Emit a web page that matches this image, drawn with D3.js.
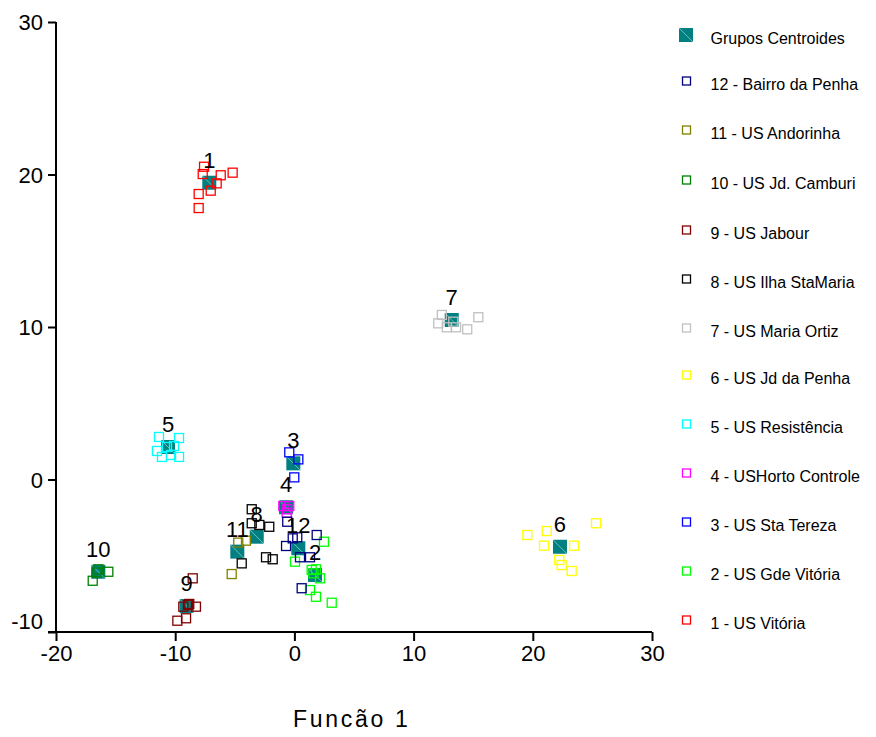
<!DOCTYPE html>
<html>
<head>
<meta charset="utf-8">
<script src="https://cdn.jsdelivr.net/npm/d3@7"></script>
<style>
  html, body { margin: 0; padding: 0; background: #fff; }
  svg { display: block; font-family: Arial, "Liberation Sans", sans-serif; }
</style>
</head>
<body>
<svg id="chart" width="876" height="737"></svg>
<script>
// ---------- data ----------
const groupNames = ["1 - US Vitória", "2 - US Gde Vitória", "3 - US Sta Tereza", "4 - USHorto Controle",
  "5 - US Resistência", "6 - US Jd da Penha", "7 - US Maria Ortiz", "8 - US Ilha StaMaria",
  "9 - US Jabour", "10 - US Jd. Camburi", "11 - US Andorinha", "12 - Bairro da Penha"];
const groupLabels = ["1","2","3","4","5","6","7","8","9","10","11","12"];
const groupColors = ["#ff0000","#00ff00","#0000ff","#ff00ff","#00ffff","#ffff00","#c0c0c0","#000000",
  "#800000","#008000","#808000","#000080"];

const centroidsX = [-7.14, 1.73, -0.09, -0.70, -10.60, 22.28, 13.20, -3.16, -9.04, -16.45, -4.79, 0.33];
const centroidsY = [19.46, -6.26, 1.06, -1.82, 2.13, -4.41, 10.46, -3.75, -8.30, -6.05, -4.73, -4.51];

const pts1 = [[-7.58,20.51],[-7.69,20.03],[-6.18,19.95],[-5.18,20.12],[-6.52,19.42],[-7.02,18.94],[-8.03,18.72],[-8.03,17.80]];
const pts2 = [[2.48,-4.08],[0.05,-5.39],[1.45,-5.93],[1.81,-5.89],[2.15,-6.48],[1.31,-7.25],[1.81,-7.69],[3.13,-8.08],[1.6,-6.15]];
const pts3 = [[-0.43,1.78],[0.33,1.32],[-0.01,0.14]];
const pts4 = [[-0.93,-1.74],[-0.60,-1.95],[-0.43,-1.74],[-0.65,-2.18]];
const pts5 = [[-11.36,2.79],[-9.68,2.72],[-11.53,1.87],[-11.11,1.48],[-10.35,1.61],[-9.68,1.48],[-10.69,2.13],[-10.10,2.20]];
const pts6 = [[19.54,-3.64],[21.17,-3.38],[25.30,-2.87],[20.94,-4.34],[23.46,-4.34],[22.22,-5.28],[22.42,-5.61],[23.26,-6.00]];
const pts7 = [[12.37,10.79],[12.07,10.24],[12.78,9.98],[13.33,10.35],[13.56,9.98],[14.50,9.85],[15.43,10.64]];
const pts8 = [[-3.58,-1.95],[-3.58,-2.87],[-2.94,-2.98],[-2.11,-3.10],[-4.42,-5.50],[-2.38,-5.10],[-1.82,-5.23]];
const pts9 = [[-8.53,-6.48],[-9.32,-8.34],[-8.82,-8.16],[-8.26,-8.34],[-9.82,-9.26],[-9.09,-9.10],[-8.93,-8.23]];
const pts10 = [[-16.45,-5.89],[-15.61,-6.05],[-16.92,-6.64],[-16.6,-6.1]];
const pts11 = [[-4.71,-4.14],[-4.06,-4.01],[-5.26,-6.20]];
const pts12 = [[-0.60,-2.77],[-0.14,-3.86],[0.24,-3.79],[-0.70,-4.36],[1.87,-3.64],[0.47,-5.10],[1.31,-5.10],[0.61,-7.13]];
const groupPoints = [pts1, pts2, pts3, pts4, pts5, pts6, pts7, pts8, pts9, pts10, pts11, pts12];

const xTicks = [-20, -10, 0, 10, 20, 30];
const yTicks = [-10, 0, 10, 20, 30];
const xTitle = "Funcão 1";
const centroidLegend = "Grupos Centroides";

// ---------- layout ----------
const svg = d3.select("#chart");
const x = d3.scaleLinear().domain([-20, 30]).range([56, 652]);
const y = d3.scaleLinear().domain([-10, 30]).range([632, 22]);
const font = 'Arial, "Liberation Sans", sans-serif';
const fmt = d => String(d);

// axes
const xAxis = svg.append("g").attr("transform", "translate(0,632)")
  .call(d3.axisBottom(x).tickValues(xTicks).tickSize(9).tickPadding(6).tickFormat(fmt));
const yAxis = svg.append("g").attr("transform", "translate(56,0)")
  .call(d3.axisLeft(y).tickValues(yTicks).tickSize(8).tickPadding(5).tickFormat(fmt));
[xAxis, yAxis].forEach(a => {
  a.select(".domain").attr("stroke", "#000").attr("stroke-width", 2);
  a.selectAll(".tick line").attr("stroke", "#000").attr("stroke-width", 2);
  a.selectAll(".tick text").attr("fill", "#000").style("font-size", "22px").style("font-family", font);
});
xAxis.select(".domain").attr("d", `M${x(-20)-8},0H${x(30)}`);
yAxis.select(".domain").attr("d", `M0,${y(30)}V${y(-10)}`);
xAxis.selectAll(".tick text").attr("dy", "0.71em").attr("y", 13);
yAxis.selectAll(".tick text").attr("dy", "0.36em").attr("x", -13);
yAxis.selectAll(".tick text").filter(d => d === -10).attr("dy", "-0.17em");

// axis title
svg.append("text").attr("x", 293).attr("y", 727)
  .style("font-size", "23px").style("font-family", font).style("letter-spacing", "2.7px")
  .text(xTitle);

// centroids
const cs = 14;
const cg = svg.append("g");
centroidsX.forEach((cx, i) => {
  const px = x(cx), py = y(centroidsY[i]);
  cg.append("rect").attr("x", px - cs/2).attr("y", py - cs/2).attr("width", cs).attr("height", cs)
    .attr("fill", "#008080");
  cg.append("line").attr("x1", px - cs/2).attr("y1", py - cs/2).attr("x2", px + cs/2).attr("y2", py + cs/2)
    .attr("stroke", "rgba(255,255,255,0.45)").attr("stroke-width", 1);
});

// group points
const ps = 9;
groupPoints.forEach((pts, gi) => {
  svg.append("g").selectAll("rect").data(pts).join("rect")
    .attr("x", d => x(d[0]) - ps/2).attr("y", d => y(d[1]) - ps/2)
    .attr("width", ps).attr("height", ps)
    .attr("fill", "none").attr("stroke", groupColors[gi]).attr("stroke-width", 1.3);
});

// group labels
centroidsX.forEach((cx, i) => {
  svg.append("text").attr("x", x(cx)).attr("y", y(centroidsY[i]) - 15)
    .attr("text-anchor", "middle").style("font-size", "22px").style("font-family", font)
    .text(groupLabels[i]);
});

// legend
const legendRowY = [35, 81, 130, 180, 230, 279, 328, 375, 424, 473, 522, 571, 620];
const lg = svg.append("g");
lg.append("rect").attr("x", 686 - 7).attr("y", legendRowY[0] - 7).attr("width", 14).attr("height", 14).attr("fill", "#008080");
lg.append("line").attr("x1", 679).attr("y1", legendRowY[0] - 7).attr("x2", 693).attr("y2", legendRowY[0] + 7)
  .attr("stroke", "rgba(255,255,255,0.45)").attr("stroke-width", 1);
lg.append("text").attr("x", 710.5).attr("y", legendRowY[0] + 9)
  .style("font-size", "16px").style("font-family", font).text(centroidLegend);
const order = d3.range(11, -1, -1);
order.forEach((gi, k) => {
  const ry = legendRowY[k + 1];
  lg.append("rect").attr("x", 686.5 - 4).attr("y", ry - 4).attr("width", 8).attr("height", 8)
    .attr("fill", "none").attr("stroke", groupColors[gi]).attr("stroke-width", 1.3);
  lg.append("text").attr("x", 710.5).attr("y", ry + 9)
    .style("font-size", "16px").style("font-family", font).text(groupNames[gi]);
});
</script>
</body>
</html>
